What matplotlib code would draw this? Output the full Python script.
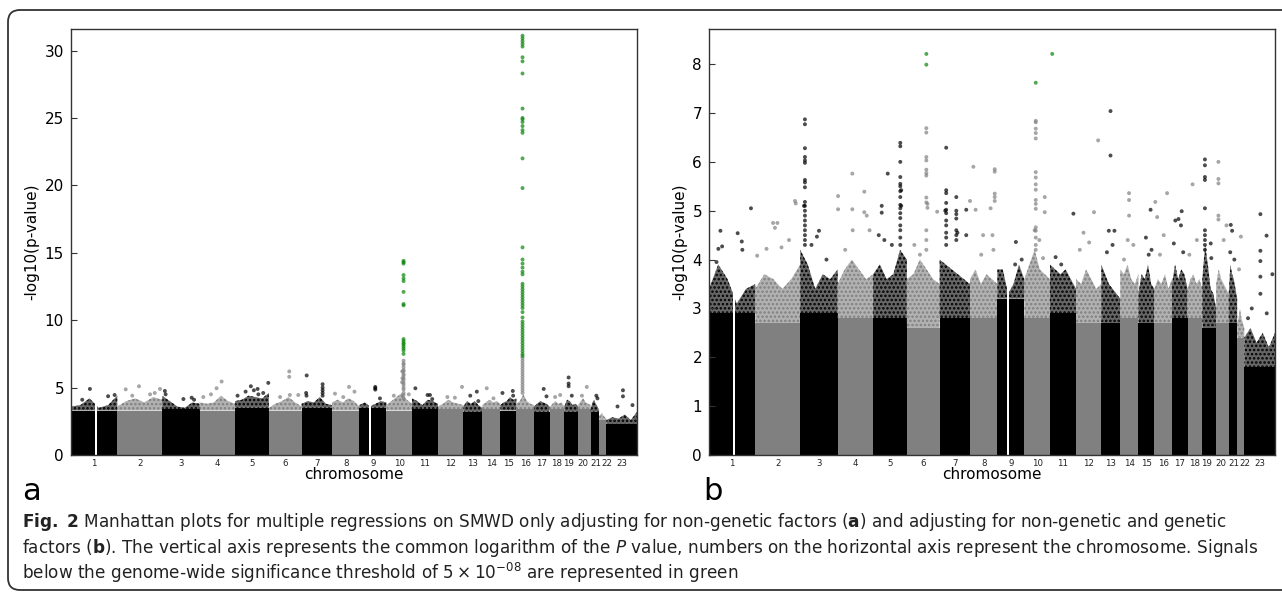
import numpy as np
import matplotlib
matplotlib.use("Agg")
import matplotlib.pyplot as plt
from matplotlib.patches import FancyBboxPatch
from matplotlib.colors import to_rgba
from matplotlib.transforms import ScaledTranslation, blended_transform_factory

# chromosomes and the span each one takes on the x axis (Mb)
chrom_labels = [str(c) for c in range(1, 24)]
chrom_len = [247, 240, 200, 189, 180, 175, 162, 146, 144, 137, 139, 135,
             101, 97, 85, 94, 83, 79, 74, 67, 45, 38, 164]

# white gaps (centromeres): chromosome, from, to (Mb)
gap_chr = [1, 9]
gap_from = [126, 54]
gap_to = [138, 64]

# panel a: height of the solid block and of the speckled top, per chromosome
core_a = [3.3, 3.3, 3.4, 3.3, 3.5, 3.3, 3.5, 3.3, 3.5, 3.3, 3.4, 3.4,
          3.2, 3.4, 3.3, 3.4, 3.2, 3.4, 3.2, 3.4, 3.2, 2.6, 2.3]
fuzz_a = [[3.6, 3.7, 4.2, 3.5, 3.7, 4.4], [3.6, 4.0, 4.2, 3.9, 4.3, 4.1],
          [4.4, 4.0, 3.6, 3.5, 3.9, 3.8], [3.9, 3.8, 3.9, 4.4, 4.0, 3.8],
          [4.0, 4.1, 4.4, 4.3, 4.2, 4.6], [3.5, 3.8, 4.0, 4.3, 3.9, 3.6],
          [3.8, 4.0, 3.9, 4.3, 3.8, 3.7], [3.9, 4.1, 3.9, 4.2, 4.0, 3.6],
          [3.7, 3.9, 3.6, 3.8, 4.0, 3.9], [3.7, 4.0, 4.3, 4.6, 4.1, 3.8],
          [4.2, 4.0, 3.7, 4.1, 4.0, 3.8], [3.6, 3.8, 4.1, 3.9, 3.8, 3.7],
          [3.6, 4.0, 3.8, 4.0, 3.7, 3.5], [3.7, 3.9, 4.1, 3.9, 4.0, 3.8],
          [3.7, 3.9, 4.0, 4.3, 4.1, 4.2], [3.8, 4.0, 4.5, 4.0, 3.8, 3.7],
          [3.6, 3.8, 4.0, 3.9, 3.8, 3.6], [3.5, 3.8, 4.0, 3.8, 3.9, 3.6],
          [3.6, 4.1, 4.0, 3.7, 3.8, 3.6], [3.7, 4.0, 4.2, 3.9, 3.8, 3.7],
          [3.4, 3.9, 4.1, 3.8, 3.6, 3.3], [2.9, 3.0, 3.1, 2.9, 2.8, 2.7],
          [2.6, 2.8, 2.7, 3.0, 2.6, 3.2]]

# panel a: single SNPs standing out (chromosome, position Mb, -log10 p)
hits_a = [(1, 101, 4.9), (1, 198, 4.36), (1, 233, 4.45), (1, 60, 4.1),
          (2, 45, 4.87), (2, 116, 5.1), (2, 175, 4.5), (2, 228, 4.9), (2, 80, 4.4), (2, 200, 4.6),
          (3, 14, 4.75), (3, 18, 4.5), (3, 113, 4.15), (3, 157, 4.25), (3, 170, 4.1),
          (4, 19, 4.3), (4, 90, 4.95), (4, 117, 5.45), (4, 60, 4.5),
          (5, 13, 4.4), (5, 56, 4.7), (5, 84, 5.1), (5, 120, 4.9), (5, 124, 4.5),
          (5, 177, 5.35), (5, 150, 4.6), (5, 100, 4.8),
          (6, 109, 6.2), (6, 109, 5.8), (6, 112, 4.45), (6, 157, 4.45), (6, 60, 4.3),
          (7, 27, 5.9), (7, 24, 4.6), (7, 26, 4.4),
          (8, 16, 4.55), (8, 91, 5.05), (8, 120, 4.7), (8, 60, 4.3),
          (9, 85, 5.05), (9, 85, 4.95), (9, 85, 4.85), (9, 110, 4.2),
          (10, 40, 4.4), (10, 120, 4.5), (10, 85, 6.2), (10, 86, 5.7), (10, 84, 5.4),
          (11, 18, 4.95), (11, 83, 4.45), (11, 96, 4.45), (11, 108, 4.15),
          (12, 128, 5.05), (12, 90, 4.25), (12, 50, 4.3),
          (13, 37, 4.4), (13, 72, 4.7), (13, 80, 4.0),
          (14, 24, 4.95), (14, 60, 4.2),
          (15, 11, 4.6), (15, 66, 4.75), (15, 68, 4.4),
          (17, 52, 4.9), (17, 67, 4.35),
          (18, 57, 4.45), (18, 30, 4.3),
          (19, 23, 5.75), (19, 23, 5.3), (19, 23, 5.1), (19, 40, 4.4),
          (20, 46, 5.05), (20, 20, 4.4),
          (21, 36, 4.2), (21, 30, 4.4),
          (23, 89, 4.8), (23, 89, 4.35), (23, 60, 3.6), (23, 140, 3.7)]

# panel a: stacked signals at one locus (chromosome, position Mb, values)
columns_a = [
    (7, 112, [5.25, 5.0, 4.8, 4.6, 4.4]),
    (10, 92, [4.2, 4.45, 4.6, 4.85, 5.0, 5.2, 5.35, 5.55, 5.7, 5.9, 6.0, 6.2,
              6.3, 6.5, 6.7, 6.8, 7.0,
              7.5, 7.75, 7.9, 8.05, 8.2, 8.3, 8.45, 8.6, 11.1, 11.2, 12.1,
              12.9, 13.1, 13.35, 14.2, 14.3, 14.4]),
    (16, 33, [4.6, 4.8, 5.0, 5.2, 5.4, 5.6, 5.8, 6.0, 6.2, 6.4, 6.6, 6.8,
              7.0, 7.2,
              7.35, 7.5, 7.7, 7.9, 8.1, 8.3, 8.5, 8.7, 8.9, 9.1, 9.3, 9.5,
              9.7, 9.9, 10.2, 10.6, 10.9, 11.1, 11.3, 11.5, 11.7, 11.9,
              12.1, 12.3, 12.5, 12.7, 13.4, 13.6, 13.9, 14.2, 14.5, 15.4,
              19.8, 22.0, 23.9, 24.1, 24.4, 24.7, 24.9, 25.0, 25.7, 28.3,
              29.2, 29.5, 30.3, 30.5, 30.7, 30.9, 31.1]),
]

# panel b
core_b = [2.9, 2.7, 2.9, 2.8, 2.8, 2.6, 2.8, 2.8, 3.2, 2.8, 2.9, 2.7,
          2.7, 2.8, 2.7, 2.7, 2.8, 2.8, 2.6, 2.7, 2.7, 2.4, 1.8]
fuzz_b = [[3.4, 3.9, 3.6, 3.1, 3.4, 3.5], [3.4, 3.7, 3.6, 3.4, 3.6, 3.9],
          [4.2, 3.9, 3.4, 3.7, 3.6, 3.8], [3.5, 3.8, 4.0, 3.8, 3.6, 3.7],
          [3.7, 3.9, 3.6, 3.7, 4.2, 4.0], [3.6, 3.7, 4.0, 3.8, 3.6, 3.5],
          [4.0, 3.9, 3.8, 3.7, 3.6, 3.5], [3.6, 3.8, 3.5, 3.7, 3.6, 3.5],
          [3.8, 3.8, 3.3, 3.5, 3.9, 3.6], [3.6, 3.9, 4.2, 3.8, 3.7, 3.6],
          [3.9, 3.8, 3.7, 3.8, 3.6, 3.4], [3.6, 3.5, 3.8, 3.6, 3.4, 3.5],
          [3.9, 3.7, 3.5, 3.4, 3.3, 3.2], [3.8, 3.7, 3.9, 3.6, 3.5, 3.7],
          [3.3, 3.7, 3.6, 3.9, 3.5, 3.4], [3.4, 3.6, 3.5, 3.7, 3.4, 3.6],
          [3.5, 3.9, 3.6, 3.8, 3.7, 3.4], [3.4, 3.6, 3.7, 3.5, 3.6, 3.4],
          [3.6, 4.3, 3.9, 3.4, 3.3, 3.0], [3.5, 3.8, 3.6, 3.5, 3.4, 3.3],
          [3.3, 3.9, 3.7, 3.6, 3.4, 3.2], [2.7, 2.8, 3.0, 2.8, 2.7, 2.6],
          [2.4, 2.6, 2.3, 2.5, 2.2, 2.5]]

hits_b = [(1, 224, 5.05), (1, 61, 4.59), (1, 50, 4.22), (1, 70, 4.27), (1, 153, 4.54),
          (1, 175, 4.37), (1, 178, 4.2), (1, 40, 3.95),
          (2, 10, 4.08), (2, 95, 4.75), (2, 105, 4.65), (2, 118, 4.75), (2, 60, 4.22),
          (2, 140, 4.25), (2, 212, 5.2), (2, 216, 5.15), (2, 180, 4.4),
          (3, 20, 5.1), (3, 89, 4.47), (3, 100, 4.59), (3, 60, 4.3), (3, 140, 4.0),
          (4, 2, 5.3), (4, 2, 5.03), (4, 78, 5.76), (4, 78, 5.03), (4, 80, 4.6),
          (4, 142, 5.39), (4, 142, 4.97), (4, 155, 4.9), (4, 170, 4.6), (4, 40, 4.2),
          (5, 46, 5.1), (5, 46, 4.96), (5, 78, 5.76), (5, 30, 4.5), (5, 60, 4.4),
          (5, 100, 4.3), (5, 150, 5.42), (5, 150, 5.1),
          (6, 110, 5.14), (6, 110, 5.06), (6, 162, 4.98), (6, 40, 4.3), (6, 70, 4.1),
          (7, 30, 5.0), (7, 95, 4.55), (7, 142, 5.02), (7, 142, 4.5),
          (8, 0, 5.2), (8, 18, 5.9), (8, 30, 5.02), (8, 60, 4.1), (8, 70, 4.5),
          (8, 110, 5.05), (8, 120, 4.5), (8, 125, 4.2),
          (9, 99, 4.36), (9, 95, 3.9), (9, 130, 4.0),
          (10, 109, 5.28), (10, 109, 4.97), (10, 55, 4.6), (10, 80, 4.4), (10, 100, 4.03),
          (11, 12, 8.21), (11, 125, 4.94), (11, 30, 4.05), (11, 60, 3.9),
          (12, 96, 4.97), (12, 40, 4.55), (12, 118, 6.44), (12, 20, 4.2), (12, 70, 4.35),
          (13, 49, 7.04), (13, 49, 6.13), (13, 40, 4.59), (13, 70, 4.59), (13, 30, 4.15),
          (13, 60, 4.3),
          (14, 47, 5.36), (14, 47, 5.22), (14, 47, 4.9), (14, 40, 4.4), (14, 70, 4.3),
          (14, 20, 4.0),
          (15, 65, 5.02), (15, 40, 4.45), (15, 70, 4.2), (15, 55, 4.1),
          (16, 5, 5.18), (16, 15, 4.87), (16, 68, 5.36), (16, 50, 4.5), (16, 30, 4.1),
          (17, 18, 4.8), (17, 35, 4.83), (17, 48, 4.7), (17, 52, 4.99), (17, 10, 4.33),
          (17, 60, 4.15),
          (18, 27, 5.54), (18, 50, 4.4), (18, 10, 4.1),
          (19, 45, 4.33), (19, 48, 4.03),
          (20, 40, 4.4), (20, 55, 4.7),
          (21, 11, 4.71), (21, 18, 4.59), (21, 8, 4.15), (21, 30, 4.0),
          (22, 20, 4.47), (22, 10, 3.8),
          (23, 119, 4.49), (23, 150, 3.7), (23, 40, 3.0), (23, 20, 2.8), (23, 120, 2.9)]

columns_b = [
    (3, 25, [6.87, 6.77, 6.28, 6.1, 6.03, 5.98, 5.63, 5.58, 5.48, 5.18, 5.1,
             5.0, 4.9, 4.8, 4.7, 4.6, 4.5, 4.4, 4.3]),
    (5, 145, [6.39, 6.32, 6.0, 5.69, 5.55, 5.5, 5.4, 5.28, 5.12, 5.05, 4.95,
              4.85, 4.7, 4.6, 4.45, 4.3]),
    (6, 104, [8.21, 7.99, 6.69, 6.6, 6.1, 6.03, 5.84, 5.77, 5.72, 5.27, 5.17,
              4.6, 4.4, 4.2]),
    (7, 35, [6.29, 5.42, 5.36, 5.16, 5.02, 4.95, 4.8, 4.7, 4.55, 4.45, 4.3]),
    (7, 89, [5.28, 5.0, 4.93, 4.84, 4.6, 4.5, 4.4]),
    (8, 132, [5.85, 5.8, 5.35, 5.28, 5.2]),
    (10, 61, [7.62, 6.84, 6.81, 6.68, 6.59, 6.48, 5.79, 5.68, 5.54, 5.43, 5.22,
              5.14, 5.04, 4.66, 4.59, 4.45, 4.3, 4.2]),
    (19, 14, [6.05, 5.93, 5.69, 5.63, 5.05, 4.6, 4.5, 4.4, 4.3, 4.2]),
    (20, 12, [6.0, 5.65, 5.56, 4.9, 4.82]),
    (23, 86, [4.93, 4.18, 3.97, 3.65, 3.3]),
]

threshold = -np.log10(5e-8)
c_odd = "#000000"
c_even = "#808080"
c_sig = "#0a850a"
edge = "#333333"
plt.rcParams["hatch.linewidth"] = 1.2

W, H = 1282, 597
fig = plt.figure(figsize=(W / 100, H / 100), dpi=100)

starts = np.concatenate([[0], np.cumsum(chrom_len)[:-1]])
centers = starts + np.array(chrom_len) / 2
total = sum(chrom_len)
# nudges (px) for the crowded labels 19..22, as printed
label_nudge = {18: -2.5, 19: -1.5, 20: 0.8, 21: 4.5}


def manhattan(ax, core, fuzz, hits, columns, ymax, yticks):
    for i, (s, n) in enumerate(zip(starts, chrom_len)):
        col = c_odd if i % 2 == 0 else c_even
        ax.bar(s, core[i], width=n, align="edge", color=col, linewidth=0, zorder=1)
        xs = np.linspace(s, s + n, len(fuzz[i]))
        # speckled top of the cloud of SNPs
        ax.fill_between(xs, core[i], fuzz[i], facecolor=to_rgba(col, 0.6),
                        edgecolor=col, hatch="....", linewidth=0, zorder=1)
    for c, a, b in zip(gap_chr, gap_from, gap_to):
        ax.axvspan(starts[c - 1] + a, starts[c - 1] + b, color="white", lw=0, zorder=2)

    pts = list(hits) + [(c, p, v) for c, p, vals in columns for v in vals]
    px = [starts[c - 1] + p for c, p, v in pts]
    py = [v for c, p, v in pts]
    pc = [c_sig if v > threshold else (c_odd if c % 2 else c_even) for c, p, v in pts]
    ax.scatter(px, py, s=8, c=pc, alpha=0.7, linewidths=0, zorder=3)

    ax.set_xlim(0, total)
    ax.set_ylim(0, ymax)
    ax.set_xticks(centers)
    ax.set_xticklabels([])
    trans = blended_transform_factory(ax.transData, ax.transAxes)
    for i, (xc, lab) in enumerate(zip(centers, chrom_labels)):
        tr = trans + ScaledTranslation(label_nudge.get(i, 0) / 100, -4 / 100, fig.dpi_scale_trans)
        ax.text(xc, 0, lab, transform=tr, ha="center", va="top",
                fontsize=6.2, color="#222222")
    ax.set_yticks(yticks)
    ax.tick_params(axis="x", length=0)
    ax.tick_params(axis="y", direction="in", length=4, width=0.8, color=edge,
                   labelsize=11, pad=5)
    for sp in ax.spines.values():
        sp.set_color(edge)
        sp.set_linewidth(1.0)
    ax.set_xlabel("chromosome", fontsize=11, labelpad=5)
    ax.set_ylabel("-log10(p-value)", fontsize=11, labelpad=4)


ax_a = fig.add_axes([71 / W, 1 - 455 / H, 566 / W, 426 / H])
manhattan(ax_a, core_a, fuzz_a, hits_a, columns_a, 31.6, range(0, 31, 5))

ax_b = fig.add_axes([709 / W, 1 - 455 / H, 566 / W, 426 / H])
manhattan(ax_b, core_b, fuzz_b, hits_b, columns_b, 8.72, range(0, 9))

# panel letters
fig.text(22 / W, 1 - 500 / H, "a", fontsize=22, va="baseline")
fig.text(703 / W, 1 - 500 / H, "b", fontsize=22, va="baseline")

# caption
lines = [r"$\mathbf{Fig.\ 2}$ Manhattan plots for multiple regressions on SMWD only adjusting for non-genetic factors ($\mathbf{a}$) and adjusting for non-genetic and genetic",
         r"factors ($\mathbf{b}$). The vertical axis represents the common logarithm of the $\mathit{P}$ value, numbers on the horizontal axis represent the chromosome. Signals",
         r"below the genome-wide significance threshold of $5 \times 10^{-08}$ are represented in green"]
caps = []
for k, txt in enumerate(lines):
    caps.append(fig.text(22 / W, 1 - (527 + 26 * k) / H, txt, fontsize=11,
                         color="#222222", va="baseline"))
fig.canvas.draw()
widest = max(t.get_window_extent().width for t in caps)
fs = 11 * 1233 / widest
for t in caps:
    t.set_fontsize(fs)

# rounded frame round the whole figure
frame = FancyBboxPatch((0.08, 0.07), 13.5, 5.80,
                       boxstyle="round,pad=0,rounding_size=0.12",
                       transform=fig.dpi_scale_trans, fill=False,
                       edgecolor="#333333", linewidth=1.3)
fig.patches.append(frame)

fig.savefig("out.png", dpi=100)
